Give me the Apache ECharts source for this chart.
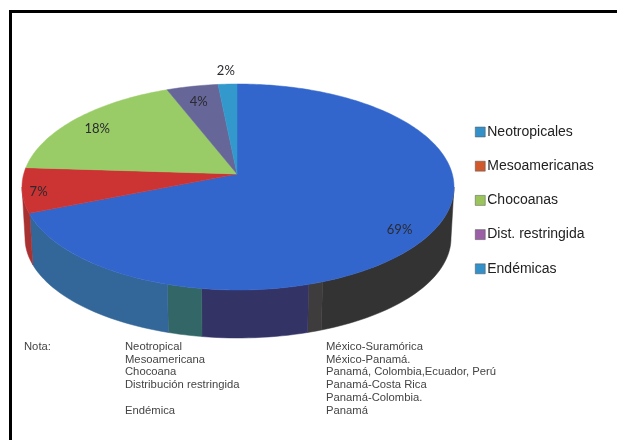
<!DOCTYPE html>
<html><head><meta charset="utf-8">
<style>html,body{margin:0;padding:0;background:#fff}#c{width:617px;height:440px}</style>
<script src="https://cdn.jsdelivr.net/npm/echarts@6/dist/echarts.min.js"></script>
</head><body><div id="c"></div>
<script>
const categories = ['Neotropicales','Mesoamericanas','Chocoanas','Dist. restringida','Endémicas'];
const values = [69,7,18,4.4,1.6];
const sliceColors = ['#3366CC','#CC3333','#99CC66','#666699','#3399CC'];
const legendColors = ['#3390C8','#D05A2C','#9BC45C','#9A5FA5','#3390C8'];
const labelReach = [0.91,0.93,0.8,0.75,1.03];
const rimEdges = [25,43.6,44.7,52.7,55.3,70.7,75];
const rimColors = ['#333333','#3E3C3C','#333366','#336666','#336699','#A83232'];
const noteHead = 'Nota:';
const noteKinds = ['Neotropical','Mesoamericana','Chocoana','Distribución restringida','','Endémica'];
const noteRanges = ['México-Suramórica','México-Panamá.','Panamá, Colombia,Ecuador, Perú','Panamá-Costa Rica','Panamá-Colombia.','Panamá'];

const apex = {x:237,y:174};
const top_ = {x:238,y:187,rx:216,ry:103};
const bot = {x:238,y:238,rx:213,ry:100};
const total = values.reduce((a,b)=>a+b,0);
const ang = p => p/100*2*Math.PI;
function rim(theta){
  const dx = top_.rx*Math.sin(theta), dy = -top_.ry*Math.cos(theta);
  const ox = (apex.x-top_.x)/top_.rx, oy = (apex.y-top_.y)/top_.ry;
  const ux = dx/top_.rx, uy = dy/top_.ry;
  const a = ux*ux+uy*uy, b = 2*(ox*ux+oy*uy), c = ox*ox+oy*oy-1;
  const t = (-b+Math.sqrt(b*b-4*a*c))/(2*a);
  return [apex.x+t*dx, apex.y+t*dy];
}
const starts = values.map((v,i)=>values.slice(0,i).reduce((a,b)=>a+b,0)/total);
function arcPoints(e,from,to){
  const pts=[], n=Math.max(2,Math.ceil((to-from)*2));
  for(let k=0;k<=n;k++){const p=ang(from+(to-from)*k/n);pts.push([e.x+e.rx*Math.sin(p),e.y-e.ry*Math.cos(p)]);}
  return pts;
}
const wallSeries = {
  type:'custom', name:'wall', silent:true, z:1, coordinateSystem:'none',
  data: rimColors.map((c,i)=>[i]),
  renderItem(params){
    const i=params.dataIndex, f=rimEdges[i], t=rimEdges[i+1];
    const pts = arcPoints(top_,f,t).concat(arcPoints(bot,f,t).reverse());
    return {type:'polygon',shape:{points:pts},style:{fill:rimColors[i],stroke:rimColors[i],lineWidth:0.5}};
  }
};
const sliceSeries = categories.map((name,i)=>({
  type:'custom', name, silent:true, z:2, coordinateSystem:'none',
  itemStyle:{color:legendColors[i]},
  data:[[values[i]]],
  renderItem(params,api){
    const share = api.value(0)/total, s=starts[i], pts=[[apex.x,apex.y]];
    const n=Math.max(4,Math.ceil(share*360));
    for(let k=0;k<=n;k++) pts.push(rim((s+share*k/n)*2*Math.PI));
    const mid=(s+share/2)*2*Math.PI;
    const lx=apex.x+labelReach[i]*top_.rx*Math.sin(mid), ly=apex.y+3-labelReach[i]*top_.ry*Math.cos(mid);
    return {type:'group',children:[
      {type:'polygon',shape:{points:pts},style:{fill:sliceColors[i],stroke:sliceColors[i],lineWidth:0.5}},
      {type:'text',z2:10,style:{x:lx,y:ly,text:Math.round(api.value(0))+'%',fill:'#2a2a30',font:'13px Lato',textAlign:'center',textVerticalAlign:'middle'}}
    ]};
  }
}));
const noteFont='11.25px "Liberation Sans"';
const noteY=[347,359.5,372,385,398,411];
const noteText=(t,x,y)=>({type:'text',z:5,style:{x,y,text:t,fill:'#444',font:noteFont,textVerticalAlign:'middle'}});
const graphics=[
  {type:'rect',z:6,shape:{x:9,y:10,width:608,height:3},style:{fill:'#000'}},
  {type:'rect',z:6,shape:{x:9,y:10,width:3,height:430},style:{fill:'#000'}},
  noteText(noteHead,24,noteY[0]),
  ...noteKinds.map((t,i)=>noteText(t,125,noteY[i])),
  ...noteRanges.map((t,i)=>noteText(t,326,noteY[i])),
  {type:'rect',z:6,shape:{x:12,y:416,width:605,height:24},style:{fill:'#fff'}}
];
const chart=echarts.init(document.getElementById('c'),null,{renderer:'canvas'});
chart.setOption({
  animation:false, backgroundColor:'#fff',
  legend:{
    orient:'vertical',left:470,top:120,itemWidth:10,itemHeight:10,itemGap:20.2,selectedMode:false,
    icon:'rect',
    textStyle:{fontFamily:'Liberation Sans',fontSize:14,color:'#222',padding:[0,0,0,-3]},
    data:categories.map((name,i)=>({name,itemStyle:{color:legendColors[i],borderColor:'#555',borderWidth:0.5}}))
  },
  series:[wallSeries,...sliceSeries],
  graphic:graphics
});
</script></body></html>
